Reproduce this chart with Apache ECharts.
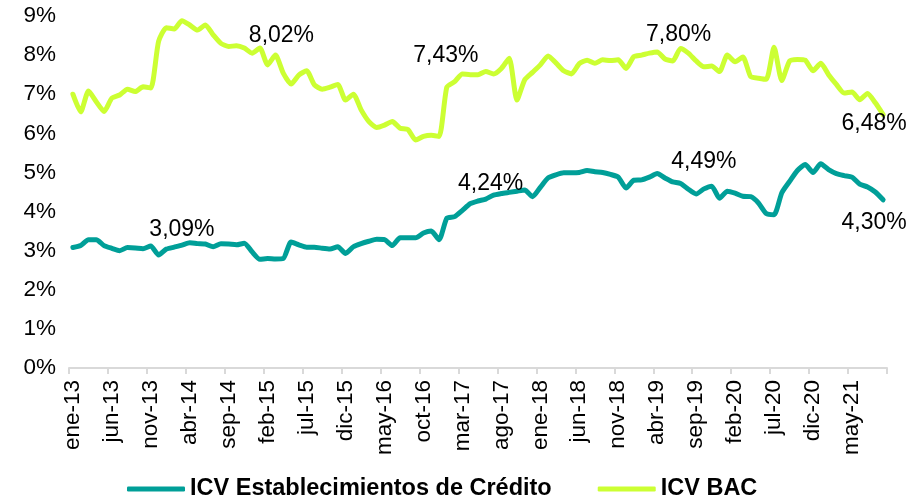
<!DOCTYPE html>
<html>
<head>
<meta charset="utf-8">
<script src="https://cdn.jsdelivr.net/npm/echarts@6/dist/echarts.min.js"></script>
<style>
  html, body { margin: 0; padding: 0; background: #fff; }
  #chart { width: 912px; height: 496px; }
</style>
</head>
<body>
<div id="chart"></div>
<script>
// meses ene-13 .. sep-21
const monthNames = ['ene', 'feb', 'mar', 'abr', 'may', 'jun', 'jul', 'ago', 'sep', 'oct', 'nov', 'dic'];
const categories = [];
for (let y = 13; y <= 21; y++) {
  monthNames.forEach((m, i) => {
    if (y === 21 && i > 8) return;
    categories.push(m + '-' + y);
  });
}

const icvEstablecimientos = [
  3.08, 3.13, 3.28, 3.28, 3.13, 3.06, 3.0, 3.08, 3.07, 3.05,
  3.12, 2.89, 3.04, 3.09, 3.14, 3.2, 3.18, 3.17, 3.1, 3.18,
  3.17, 3.15, 3.19, 2.97, 2.78, 2.8, 2.79, 2.8, 3.22, 3.15,
  3.09, 3.09, 3.06, 3.04, 3.1, 2.93, 3.1, 3.18, 3.24, 3.29,
  3.28, 3.13, 3.33, 3.33, 3.33, 3.45, 3.5, 3.28, 3.83, 3.87,
  4.03, 4.2, 4.27, 4.32, 4.42, 4.46, 4.49, 4.52, 4.55, 4.38,
  4.62, 4.86, 4.94, 4.99, 4.99, 5.0, 5.05, 5.02, 5.0, 4.95,
  4.88, 4.6, 4.8, 4.81, 4.88, 4.97, 4.86, 4.76, 4.72, 4.57,
  4.45, 4.58, 4.65, 4.34, 4.52, 4.47, 4.39, 4.38, 4.22, 3.95,
  3.92, 4.48, 4.77, 5.05, 5.2, 5.0, 5.22, 5.07, 4.97, 4.92,
  4.88, 4.7, 4.63, 4.5, 4.30
];

const icvBac = [
  7.0, 6.55, 7.08, 6.81, 6.56, 6.9, 6.98, 7.13, 7.07, 7.19,
  7.16, 8.35, 8.7, 8.67, 8.88, 8.77, 8.64, 8.77, 8.52, 8.3,
  8.22, 8.24, 8.18, 8.05, 8.18, 7.75, 8.0, 7.54, 7.26, 7.49,
  7.6, 7.24, 7.13, 7.18, 7.25, 6.85, 7.0, 6.6, 6.3, 6.15,
  6.21, 6.3, 6.13, 6.1, 5.83, 5.92, 5.95, 5.92, 7.18, 7.32,
  7.52, 7.5, 7.5, 7.58, 7.52, 7.66, 7.92, 6.85, 7.37, 7.56,
  7.75, 7.98, 7.8, 7.6, 7.52, 7.78, 7.87, 7.79, 7.88, 7.86,
  7.88, 7.66, 7.96, 8.0, 8.05, 8.08, 7.9, 7.85, 8.17, 8.05,
  7.85, 7.7, 7.72, 7.58, 8.0, 7.83, 7.95, 7.45, 7.41, 7.38,
  8.2, 7.35, 7.85, 7.89, 7.87, 7.6, 7.79, 7.5, 7.25, 7.03,
  7.06, 6.86, 7.02, 6.78, 6.48
];

// etiquetas de datos
const estLabelIdx = [14, 54, 81, 104];
const estLabelText = ['3,09%', '4,24%', '4,49%', '4,30%'];
const bacLabelIdx = [26, 48, 78, 104];
const bacLabelText = ['8,02%', '7,43%', '7,80%', '6,48%'];

const yTicks = [0, 1, 2, 3, 4, 5, 6, 7, 8, 9];

const FONT = "'Liberation Sans', Arial, sans-serif";
const TEAL = '#009F98';
const LIME = '#CCFF33';

// desplazamientos de las etiquetas (estilo)
const estLabelPos = [
  { position: 'top', offset: [0, 2] },
  { position: 'top', offset: [-3, 6] },
  { position: 'top', offset: [0, -10] },
  { position: 'bottom', offset: [-9, 5] }
];
const bacLabelPos = [
  { position: 'top', offset: [6, -2] },
  { position: 'top', offset: [-1, -14] },
  { position: 'top', offset: [-2, 4] },
  { position: 'bottom', offset: [-9, -8] }
];

function buildData(values, idxList, texts, pos) {
  return values.map((v, i) => {
    const k = idxList.indexOf(i);
    if (k < 0) return v;
    return {
      value: v,
      label: {
        show: true,
        formatter: texts[k],
        position: pos[k].position,
        offset: pos[k].offset,
        color: '#000',
        fontSize: 23,
        fontFamily: FONT
      }
    };
  });
}

const chart = echarts.init(document.getElementById('chart'));

const option = {
  animation: false,
  textStyle: { fontFamily: FONT },
  grid: { left: 69, right: 25, top: 16, bottom: 128, containLabel: false },
  legend: {
    left: 122,
    top: 472,
    itemWidth: 58,
    itemHeight: 5,
    itemGap: 46,
    icon: 'roundRect',
    textStyle: { fontSize: 23.5, fontWeight: 'bold', color: '#000', fontFamily: FONT },
    data: ['ICV Establecimientos de Crédito', 'ICV BAC']
  },
  xAxis: {
    type: 'category',
    data: categories,
    boundaryGap: true,
    axisLine: { lineStyle: { color: '#D9D9D9', width: 2 } },
    axisTick: { show: true, interval: 4, length: 6, lineStyle: { color: '#D9D9D9', width: 2 } },
    axisLabel: {
      interval: 4,
      rotate: 90,
      margin: 12,
      color: '#000',
      fontSize: 22.5,
      fontFamily: FONT
    },
    splitLine: { show: false }
  },
  yAxis: {
    type: 'value',
    min: yTicks[0],
    max: yTicks[yTicks.length - 1],
    interval: 1,
    axisLine: { show: false },
    axisTick: { show: false },
    splitLine: { show: false },
    axisLabel: {
      formatter: '{value}%',
      color: '#000',
      fontSize: 22.5,
      margin: 13,
      fontFamily: FONT
    }
  },
  series: [
    {
      name: 'ICV Establecimientos de Crédito',
      type: 'line',
      data: buildData(icvEstablecimientos, estLabelIdx, estLabelText, estLabelPos),
      smooth: 0.2,
      symbol: 'circle',
      symbolSize: 2,
      showSymbol: true,
      showAllSymbol: true,
      silent: true,
      itemStyle: { color: TEAL },
      lineStyle: { color: TEAL, width: 5, cap: 'round', join: 'round' }
    },
    {
      name: 'ICV BAC',
      type: 'line',
      data: buildData(icvBac, bacLabelIdx, bacLabelText, bacLabelPos),
      smooth: 0.2,
      symbol: 'circle',
      symbolSize: 2,
      showSymbol: true,
      showAllSymbol: true,
      silent: true,
      itemStyle: { color: LIME },
      lineStyle: { color: LIME, width: 5, cap: 'round', join: 'round' }
    }
  ]
};

chart.setOption(option);
window.addEventListener('resize', () => chart.resize());
</script>
</body>
</html>
